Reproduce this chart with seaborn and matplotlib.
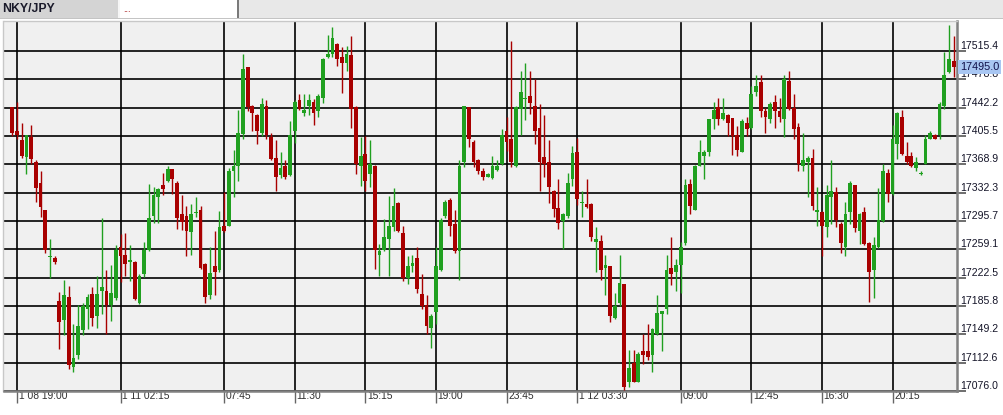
import matplotlib
matplotlib.use("Agg")
import matplotlib.pyplot as plt
import matplotlib.transforms as mtransforms
from matplotlib.patches import Rectangle
import numpy as np
import pandas as pd
import seaborn as sns

# NKY/JPY, 15 minute bars
opens = [
    17442.5, 17411.9, 17400.3, 17377.8, 17404.6, 17372.2, 17344.6, 17309.7, 17249.7, 17248.0,
    17192.0, 17168.2, 17197.6, 17107.0, 17123.0, 17155.3, 17182.5, 17201.9, 17173.0, 17205.3,
    17204.9, 17186.8, 17196.7, 17261.4, 17251.5, 17243.3, 17242.8, 17189.8, 17226.9, 17258.8,
    17302.4, 17326.9, 17342.5, 17347.6, 17362.3, 17344.6, 17304.5, 17301.9, 17280.8, 17305.4,
    17309.7, 17239.8, 17200.6, 17237.2, 17232.9, 17289.0, 17289.4, 17360.6, 17367.0, 17407.6,
    17494.3, 17444.2, 17432.6, 17409.7, 17444.2, 17404.6, 17377.4, 17355.0, 17367.0, 17355.0,
    17411.9, 17452.0, 17435.6, 17444.2, 17449.8, 17438.2, 17455.0, 17508.1, 17511.1, 17524.5,
    17507.2, 17499.4, 17510.2, 17442.5, 17367.0, 17382.1, 17355.8, 17367.0, 17252.3, 17257.9,
    17273.0, 17288.1, 17318.3, 17279.5, 17222.6, 17237.2, 17248.0, 17201.9, 17186.8, 17157.9,
    17178.2, 17232.9, 17302.4, 17322.6, 17291.6, 17257.1, 17372.2, 17442.5, 17398.1, 17374.4,
    17360.1, 17352.8, 17350.7, 17361.4, 17368.8, 17411.9, 17401.5, 17366.6, 17439.9, 17452.9,
    17457.2, 17444.2, 17415.3, 17377.8, 17371.4, 17334.3, 17312.7, 17295.9, 17302.4, 17349.4,
    17385.2, 17318.3, 17317.4, 17317.4, 17267.9, 17270.0, 17235.5, 17237.2, 17170.4, 17189.8,
    17213.9, 17087.6, 17112.6, 17087.6, 17127.3, 17127.3, 17123.0, 17149.3, 17176.0, 17182.5,
    17235.1, 17229.9, 17238.5, 17267.4, 17343.3, 17309.7, 17367.0, 17380.0, 17384.3, 17427.4,
    17442.5, 17427.4, 17432.6, 17428.3, 17406.7, 17385.2, 17421.8, 17416.2, 17462.8, 17475.7,
    17438.2, 17427.4, 17449.0, 17438.2, 17427.4, 17476.6, 17442.1, 17417.5, 17367.0, 17372.2,
    17377.4, 17307.5, 17307.5, 17288.1, 17326.9, 17332.5, 17291.6, 17262.2, 17306.7, 17342.0,
    17282.9, 17306.7, 17267.4, 17232.9, 17262.2, 17295.5, 17357.1, 17330.4, 17395.1, 17429.6,
    17379.6, 17379.6, 17364.5, 17355.8, 17369.2, 17401.5, 17406.7, 17406.7, 17444.7, 17487.8,
    17502.5,
]
highs = [
    17442.5, 17449.8, 17421.8, 17406.7, 17419.7, 17374.4, 17360.1, 17309.7, 17273.0, 17250.2,
    17204.0, 17219.1, 17211.8, 17163.1, 17186.8, 17189.8, 17201.9, 17210.5, 17224.3, 17298.9,
    17232.1, 17239.4, 17264.4, 17278.6, 17279.5, 17264.4, 17244.1, 17226.9, 17268.7, 17342.9,
    17339.9, 17338.6, 17357.1, 17367.0, 17363.2, 17346.8, 17329.1, 17314.9, 17317.4, 17326.9,
    17314.9, 17241.5, 17262.2, 17282.9, 17308.8, 17333.4, 17363.6, 17387.3, 17439.1, 17511.1,
    17495.1, 17445.1, 17433.5, 17454.2, 17452.0, 17408.9, 17400.3, 17385.2, 17374.4, 17424.8,
    17452.0, 17459.8, 17459.8, 17459.8, 17452.9, 17459.8, 17506.8, 17536.1, 17546.0, 17525.3,
    17520.1, 17521.9, 17534.8, 17444.2, 17404.6, 17405.4, 17400.3, 17367.9, 17265.7, 17297.6,
    17327.8, 17337.7, 17319.6, 17289.0, 17250.2, 17251.5, 17262.2, 17226.9, 17199.7, 17176.0,
    17262.2, 17298.9, 17322.6, 17324.8, 17309.7, 17374.4, 17444.2, 17442.5, 17400.3, 17375.2,
    17363.6, 17357.1, 17379.6, 17374.4, 17414.1, 17430.4, 17528.3, 17444.2, 17490.0, 17500.3,
    17490.0, 17478.7, 17446.8, 17432.6, 17400.3, 17335.6, 17349.4, 17306.2, 17357.1, 17392.5,
    17402.4, 17334.3, 17349.8, 17318.3, 17287.3, 17277.3, 17251.5, 17237.7, 17202.7, 17251.5,
    17214.8, 17129.4, 17129.4, 17126.4, 17149.3, 17162.2, 17157.9, 17199.7, 17179.4, 17251.5,
    17275.2, 17245.9, 17268.7, 17349.4, 17349.8, 17367.9, 17400.3, 17387.3, 17427.0, 17449.8,
    17454.2, 17455.0, 17433.5, 17429.1, 17418.4, 17427.0, 17429.6, 17470.1, 17484.3, 17484.3,
    17441.2, 17449.8, 17458.5, 17454.2, 17484.3, 17490.0, 17459.8, 17421.8, 17408.9, 17379.6,
    17388.6, 17339.9, 17308.4, 17342.0, 17374.4, 17339.9, 17294.6, 17319.6, 17347.6, 17342.5,
    17306.2, 17314.0, 17267.9, 17275.2, 17338.6, 17369.2, 17362.3, 17419.7, 17436.0, 17439.1,
    17397.2, 17384.3, 17378.7, 17360.1, 17406.7, 17411.9, 17407.6, 17449.8, 17514.5, 17549.0,
    17534.8,
]
lows = [
    17405.4, 17401.5, 17376.5, 17356.3, 17369.2, 17320.5, 17301.1, 17254.9, 17222.6, 17240.7,
    17130.7, 17148.0, 17104.8, 17100.5, 17117.8, 17148.0, 17156.6, 17159.6, 17157.9, 17176.0,
    17149.3, 17166.5, 17194.1, 17217.0, 17224.3, 17218.3, 17194.1, 17188.9, 17223.4, 17257.1,
    17292.4, 17292.4, 17329.1, 17346.3, 17330.0, 17285.1, 17283.8, 17250.6, 17251.5, 17301.1,
    17234.2, 17189.8, 17195.4, 17199.7, 17229.9, 17281.7, 17289.0, 17326.1, 17347.2, 17401.5,
    17437.8, 17412.3, 17395.1, 17405.4, 17401.5, 17374.4, 17334.3, 17350.7, 17349.4, 17354.1,
    17396.8, 17439.1, 17431.3, 17432.6, 17419.7, 17430.4, 17447.7, 17505.9, 17508.1, 17496.0,
    17461.5, 17489.5, 17416.2, 17356.3, 17341.2, 17334.7, 17339.9, 17234.2, 17224.7, 17257.1,
    17224.7, 17282.9, 17280.8, 17217.8, 17214.8, 17229.9, 17203.2, 17182.5, 17149.3, 17131.6,
    17163.1, 17231.2, 17298.9, 17276.0, 17254.9, 17220.0, 17364.9, 17390.8, 17365.8, 17356.3,
    17348.5, 17352.0, 17349.4, 17360.6, 17367.9, 17386.4, 17365.8, 17364.9, 17406.7, 17426.1,
    17433.5, 17395.1, 17334.7, 17352.8, 17318.3, 17300.2, 17285.1, 17259.2, 17298.9, 17340.7,
    17316.1, 17300.2, 17311.8, 17270.0, 17229.9, 17220.0, 17199.7, 17165.2, 17169.5, 17185.5,
    17077.7, 17081.1, 17087.2, 17087.2, 17111.3, 17116.5, 17100.5, 17148.8, 17127.7, 17175.1,
    17212.6, 17205.3, 17202.7, 17264.4, 17304.5, 17309.3, 17366.6, 17349.8, 17380.0, 17414.5,
    17419.7, 17426.1, 17405.4, 17380.8, 17379.6, 17384.7, 17405.9, 17414.1, 17457.2, 17430.4,
    17409.7, 17421.8, 17415.3, 17424.0, 17404.6, 17439.1, 17401.1, 17360.6, 17360.6, 17326.1,
    17309.7, 17289.4, 17250.2, 17275.2, 17291.6, 17287.3, 17254.5, 17250.6, 17291.6, 17281.7,
    17265.3, 17264.4, 17191.1, 17196.3, 17261.0, 17294.6, 17320.5, 17329.1, 17375.2, 17380.8,
    17369.2, 17365.8, 17360.6, 17355.4, 17368.8, 17401.1, 17401.1, 17401.1, 17439.9, 17487.4,
    17482.2,
]
closes = [
    17409.7, 17406.7, 17380.0, 17406.7, 17375.2, 17337.7, 17313.1, 17257.9, 17251.0, 17242.8,
    17165.2, 17199.7, 17110.0, 17119.1, 17159.6, 17185.5, 17197.6, 17170.8, 17201.9, 17210.5,
    17186.8, 17202.7, 17258.8, 17250.6, 17239.8, 17245.0, 17195.4, 17224.3, 17257.9, 17298.9,
    17329.1, 17336.9, 17337.3, 17362.3, 17349.4, 17299.8, 17294.6, 17282.9, 17304.5, 17307.1,
    17235.5, 17197.6, 17229.0, 17229.9, 17288.1, 17282.9, 17360.1, 17367.0, 17408.9, 17492.1,
    17442.5, 17435.6, 17412.3, 17446.8, 17406.7, 17375.2, 17352.8, 17364.5, 17352.0, 17406.7,
    17449.0, 17439.9, 17439.1, 17452.0, 17435.6, 17457.2, 17505.0, 17511.5, 17531.8, 17505.0,
    17500.3, 17511.5, 17439.9, 17369.2, 17380.0, 17347.6, 17369.2, 17257.9, 17257.1, 17275.2,
    17289.0, 17314.9, 17282.5, 17222.6, 17237.2, 17242.0, 17208.3, 17185.5, 17160.0, 17172.5,
    17237.2, 17296.7, 17319.6, 17289.4, 17257.1, 17366.6, 17444.2, 17401.1, 17372.2, 17360.6,
    17352.0, 17355.8, 17366.6, 17367.0, 17406.7, 17398.1, 17372.2, 17442.5, 17462.8, 17455.0,
    17447.7, 17412.3, 17372.2, 17369.2, 17339.9, 17310.5, 17292.4, 17304.5, 17345.0, 17383.0,
    17323.5, 17320.5, 17313.1, 17275.2, 17272.2, 17232.9, 17239.4, 17173.0, 17185.9, 17216.1,
    17081.1, 17106.1, 17087.6, 17124.2, 17122.1, 17119.9, 17156.6, 17177.3, 17179.0, 17232.1,
    17226.9, 17239.4, 17261.4, 17342.0, 17315.3, 17367.0, 17384.3, 17384.3, 17427.0, 17439.1,
    17427.4, 17434.8, 17422.7, 17405.4, 17387.3, 17424.8, 17414.5, 17459.8, 17470.1, 17438.2,
    17430.4, 17446.8, 17438.2, 17430.4, 17478.7, 17439.9, 17414.5, 17368.8, 17374.4, 17377.4,
    17315.3, 17309.7, 17289.4, 17329.1, 17334.3, 17296.7, 17267.4, 17304.5, 17344.2, 17286.0,
    17304.5, 17265.3, 17229.9, 17264.4, 17296.7, 17360.1, 17330.0, 17401.5, 17434.8, 17382.1,
    17372.2, 17367.0, 17371.4, 17358.0, 17401.5, 17408.9, 17401.5, 17446.4, 17484.3, 17504.6,
    17495.0,
]

price_ticks = [17076.0, 17112.6, 17149.2, 17185.8, 17222.5, 17259.1, 17295.7,
               17332.3, 17368.9, 17405.5, 17442.2, 17478.8, 17515.4]
time_tick_bars = [1, 23, 45, 60, 75, 90, 105, 120, 142, 157, 172, 187]
time_tick_labels = ["1 08 19:00", "1 11 02:15", "07:45", "11:30", "15:15", "19:00",
                    "23:45", "1 12 03:30", "09:00", "12:45", "16:30", "20:15"]
symbol = "NKY/JPY"
last_price = 17495.0

UP = "#20a020"
DOWN = "#a80000"

df = pd.DataFrame({"o": opens, "h": highs, "l": lows, "c": closes})
df["bar"] = np.arange(len(df))
df["up"] = df["c"] >= df["o"]
df["color"] = np.where(df["up"], UP, DOWN)
df["bottom"] = df[["o", "c"]].min(axis=1)
df["height"] = np.maximum((df["c"] - df["o"]).abs(), 1.0)

sns.set_theme(style="white")
plt.rcParams['font.family'] = ['Liberation Sans', 'DejaVu Sans']

fig = plt.figure(figsize=(10.04, 4.15), dpi=100)
W, H = 1004, 415

# tab strip on top
def px_rect(x0, y0, x1, y1, color):
    fig.add_artist(Rectangle((x0 / W, 1 - y1 / H), (x1 - x0) / W, (y1 - y0) / H,
                             transform=fig.transFigure, fc=color, ec='none', zorder=0))

px_rect(0, 0, 1004, 19, "#e8e8e8")
px_rect(0, 0, 118, 18, "#d4d4d4")
px_rect(118, 0, 120, 18, "#f6f6f6")
px_rect(120, 0, 237, 18, "#ffffff")
px_rect(237, 0, 239, 18, "#7a7a7a")
px_rect(0, 18, 1004, 19, "#c4c4c4")
fig.text(2 / W, 1 - 8.5 / H, symbol, fontsize=8.8, fontweight='bold', color="#1a1a2a",
         va='center', ha='left')
fig.text(123 / W, 1 - 9 / H, "...", fontsize=6.5, color="#b03030", va='center', ha='left')

ax = fig.add_axes([3.5 / W, 1 - 391 / H, 954 / W, 370 / H])
ax.set_facecolor("#f0f0f0")

ax.vlines(df["bar"], df["l"], df["h"], colors=df["color"], linewidth=1.0, zorder=3)
ax.bar(df["bar"], df["height"], bottom=df["bottom"], width=0.8, color=df["color"],
       linewidth=0, zorder=4)

ax.set_xlim(-1.87, 200.8)
ax.set_ylim(17076.0, 17554.0)

ax.set_yticks(price_ticks)
ax.set_yticklabels([f"{v:.1f}" for v in price_ticks])
ax.set_xticks(time_tick_bars)
ax.set_xticklabels(time_tick_labels)
ax.grid(True, color="black", linewidth=1.2)
ax.set_axisbelow(True)

ax.yaxis.tick_right()
ax.tick_params(axis='y', right=True, left=False, length=6.5, width=1.2, color="#555555",
               pad=-4.5, labelsize=7.6, labelcolor="#141428")
ax.tick_params(axis='x', bottom=True, length=8.5, width=1.0, color="#666666",
               pad=-8.2, labelsize=7.4, labelcolor="#303030")
for lbl in ax.get_yticklabels():
    lbl.set_va('bottom')
shift = mtransforms.ScaledTranslation(1.5 / 100, 0, fig.dpi_scale_trans)
for lbl in ax.get_xticklabels():
    lbl.set_ha('left')
    lbl.set_transform(lbl.get_transform() + shift)

for side in ("left", "top"):
    ax.spines[side].set_color("#c8c8c8")
    ax.spines[side].set_linewidth(1.0)
for side in ("right", "bottom"):
    ax.spines[side].set_color("#808080")
    ax.spines[side].set_linewidth(1.8)

# current price marker
ax.text(1.0025, last_price, f"{last_price:.1f}",
        transform=mtransforms.blended_transform_factory(ax.transAxes, ax.transData),
        ha='left', va='center', fontsize=7.8, color="#10104a", zorder=10,
        bbox=dict(boxstyle='square,pad=0.18', fc="#a8c6f2", ec='none'))

fig.savefig("out.png", dpi=100)
